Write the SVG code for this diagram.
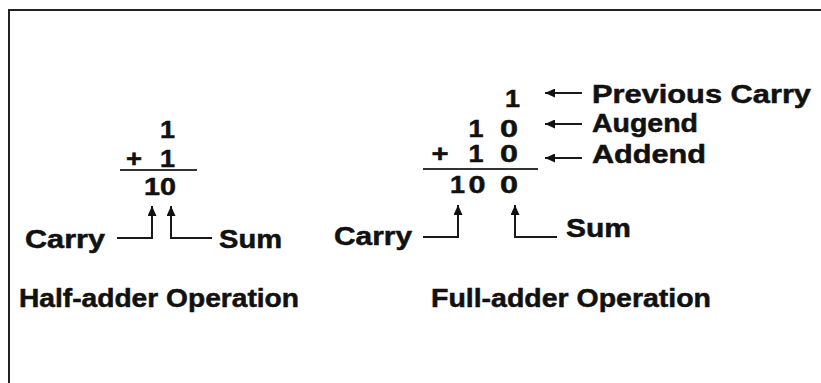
<svg xmlns="http://www.w3.org/2000/svg" width="821" height="383" viewBox="0 0 821 383">
<style>
  .lbl { font-family: "Liberation Sans", Arial, sans-serif; font-weight: bold; font-size: 25px; fill: #111; stroke: #111; stroke-width: 0.5; }
  .dig { font-family: "Liberation Sans", Arial, sans-serif; font-weight: bold; font-size: 24px; fill: #111; stroke: #111; stroke-width: 0.5; text-anchor: middle; }
  .con { fill: none; stroke: #1a1a1a; stroke-width: 2; marker-end: url(#ah); }
  .bar { stroke: #333; stroke-width: 2.2; fill: none; }
</style>
<defs>
  <marker id="ah" markerUnits="userSpaceOnUse" markerWidth="11" markerHeight="9" refX="10" refY="4.5" orient="auto">
    <path d="M0,0 L10,4.5 L0,9 Z" fill="#111"/>
  </marker>
</defs>
<rect x="0" y="0" width="821" height="383" fill="#fff"/>
<path d="M9,383 V10 H821" fill="none" stroke="#222" stroke-width="2"/>

<g id="half-adder">
  <text class="dig" x="167.5" y="138" textLength="15" lengthAdjust="spacingAndGlyphs">1</text>
  <text class="dig" x="134" y="167" textLength="16" lengthAdjust="spacingAndGlyphs">+</text>
  <text class="dig" x="167.5" y="167" textLength="15" lengthAdjust="spacingAndGlyphs">1</text>
  <path class="bar" d="M120,170 H197"/>
  <text class="dig" x="160" y="195" textLength="32" lengthAdjust="spacingAndGlyphs">10</text>
</g>
<g id="half-carry"><text class="lbl" x="25" y="248" textLength="80" lengthAdjust="spacingAndGlyphs">Carry</text></g>
<g id="half-sum"><text class="lbl" x="219" y="248" textLength="63" lengthAdjust="spacingAndGlyphs">Sum</text></g>
<g id="half-title"><text class="lbl" x="19" y="307" textLength="280" lengthAdjust="spacingAndGlyphs">Half-adder Operation</text></g>

<g id="full-adder">
  <text class="dig" x="512.5" y="107" textLength="15" lengthAdjust="spacingAndGlyphs">1</text>
  <text class="dig" x="476" y="137" textLength="15" lengthAdjust="spacingAndGlyphs">1</text>
  <text class="dig" x="509" y="137" textLength="18" lengthAdjust="spacingAndGlyphs">0</text>
  <text class="dig" x="440" y="162" textLength="17" lengthAdjust="spacingAndGlyphs">+</text>
  <text class="dig" x="476" y="162" textLength="15" lengthAdjust="spacingAndGlyphs">1</text>
  <text class="dig" x="509" y="162" textLength="18" lengthAdjust="spacingAndGlyphs">0</text>
  <path class="bar" d="M423,169 H538"/>
  <text class="dig" x="457.5" y="193" textLength="15" lengthAdjust="spacingAndGlyphs">1</text>
  <text class="dig" x="477" y="193" textLength="17" lengthAdjust="spacingAndGlyphs">0</text>
  <text class="dig" x="509" y="193" textLength="18" lengthAdjust="spacingAndGlyphs">0</text>
</g>
<g id="full-carry"><text class="lbl" x="334" y="245" textLength="78" lengthAdjust="spacingAndGlyphs">Carry</text></g>
<g id="full-sum"><text class="lbl" x="566" y="237" textLength="65" lengthAdjust="spacingAndGlyphs">Sum</text></g>
<g id="prev-carry"><text class="lbl" x="592" y="103" textLength="219" lengthAdjust="spacingAndGlyphs">Previous Carry</text></g>
<g id="augend"><text class="lbl" x="592" y="132" textLength="106" lengthAdjust="spacingAndGlyphs">Augend</text></g>
<g id="addend"><text class="lbl" x="592" y="163" textLength="114" lengthAdjust="spacingAndGlyphs">Addend</text></g>
<g id="full-title"><text class="lbl" x="431" y="307" textLength="280" lengthAdjust="spacingAndGlyphs">Full-adder Operation</text></g>

<g id="connectors">
  <path class="con" d="M117,238 H152 V206"/>
  <path class="con" d="M212,238 H171 V206"/>
  <path class="con" d="M423,237 H458 V205"/>
  <path class="con" d="M557,237 H515 V205"/>
  <path class="con" d="M582,93 H545"/>
  <path class="con" d="M582,124 H545"/>
  <path class="con" d="M582,158 H545"/>
</g>
</svg>
